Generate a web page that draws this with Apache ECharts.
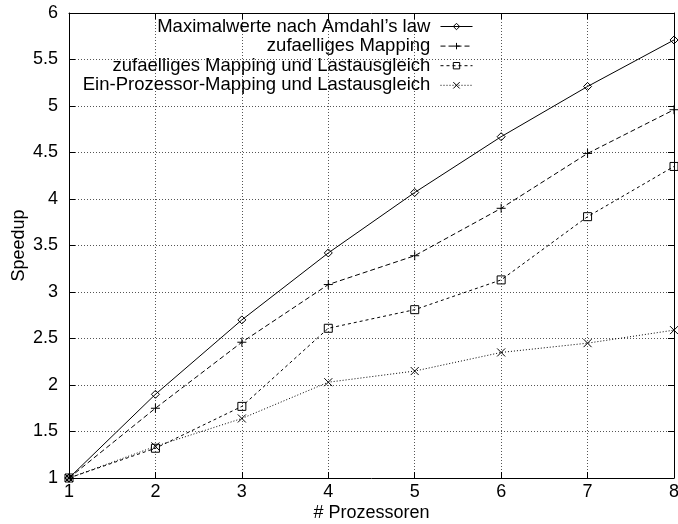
<!DOCTYPE html>
<html>
<head>
<meta charset="utf-8">
<script src="https://cdn.jsdelivr.net/npm/echarts@6/dist/echarts.min.js"></script>
<style>
  html, body { margin: 0; padding: 0; background: #fff; }
  #chart { width: 678px; height: 524px; }
</style>
</head>
<body>
<div id="chart"></div>
<script>
// Speedup measurements over the number of processors
const processors = [1, 2, 3, 4, 5, 6, 7, 8];
const amdahlMax = [1, 1.90, 2.70, 3.42, 4.07, 4.67, 5.21, 5.71];
const randomMapping = [1, 1.75, 2.46, 3.08, 3.39, 3.90, 4.49, 4.96];
const randomMappingBalanced = [1, 1.32, 1.77, 2.61, 2.81, 3.13, 3.81, 4.35];
const singleProcBalanced = [1, 1.34, 1.64, 2.03, 2.15, 2.35, 2.45, 2.59];

const seriesNames = [
  'Maximalwerte nach Amdahl\u2019s law',
  'zufaelliges Mapping',
  'zufaelliges Mapping und Lastausgleich',
  'Ein-Prozessor-Mapping und Lastausgleich'
];
const seriesValues = [amdahlMax, randomMapping, randomMappingBalanced, singleProcBalanced];

// Point markers and dash patterns, one per series
const markers = [
  'path://M4,0L8,4L4,8L0,4Z',
  'path://M0,4L8,4M4,0L4,8',
  'path://M0,0L8,0L8,8L0,8Z',
  'path://M0,0L8,8M8,0L0,8'
];
const markerSizes = [8, 9, 8, 8];
const dashes = ['solid', [5, 3], [3, 3], [1, 2]];

const FONT = '"Liberation Sans", Arial, Helvetica, sans-serif';
const INK = '#000';

const textStyle = { color: INK, fontFamily: FONT, fontSize: 18 };

function toPairs(values) {
  return processors.map((p, i) => [p, values[i]]);
}

const series = seriesNames.map((name, i) => ({
  type: 'line',
  name: name,
  data: toPairs(seriesValues[i]),
  symbol: markers[i],
  symbolSize: markerSizes[i],
  symbolKeepAspect: true,
  showAllSymbol: true,
  lineStyle: { color: INK, width: 1, type: dashes[i] },
  itemStyle: { color: 'rgba(0,0,0,0)', borderColor: INK, borderWidth: 1 },
  emphasis: { disabled: true },
  z: 3 + i
}));

const legendData = seriesNames.map((name, i) => ({
  name: name,
  itemStyle: { color: 'rgba(0,0,0,0)', borderColor: INK, borderWidth: 1 },
  lineStyle: { color: INK, width: 1, type: dashes[i] }
}));

const tickStyle = { show: true, inside: true, length: 6, lineStyle: { color: INK, width: 1 } };
const borderLine = { show: true, lineStyle: { color: INK, width: 1 } };
const gridLine = { show: true, lineStyle: { color: '#555', width: 1, type: [1, 2] } };

const option = {
  animation: false,
  backgroundColor: '#fff',
  textStyle: { fontFamily: FONT },
  grid: { left: 69, right: 4, top: 13, bottom: 46, containLabel: false, outerBoundsMode: 'none' },
  legend: {
    orient: 'vertical',
    align: 'right',
    right: 205,
    top: 17,
    padding: 0,
    itemWidth: 32,
    itemHeight: 8,
    itemGap: 0.6,
    selectedMode: false,
    formatter: name => name + ' ',
    textStyle: Object.assign({}, textStyle, { fontSize: 18.5, lineHeight: 18 }),
    data: legendData
  },
  xAxis: [
    {
      type: 'value', position: 'bottom', min: 1, max: 8, interval: 1,
      axisLine: borderLine, axisTick: tickStyle,
      axisLabel: Object.assign({ margin: 5 }, textStyle),
      splitLine: gridLine,
      name: '# Prozessoren', nameLocation: 'middle', nameGap: 26,
      nameMoveOverlap: false,
      nameTextStyle: textStyle
    },
    {
      type: 'value', position: 'top', min: 1, max: 8, interval: 1,
      axisLine: borderLine, axisTick: tickStyle,
      axisLabel: { show: false }, splitLine: { show: false }
    }
  ],
  yAxis: [
    {
      type: 'value', position: 'left', min: 1, max: 6, interval: 0.5,
      axisLine: borderLine, axisTick: tickStyle,
      axisLabel: Object.assign({ margin: 11 }, textStyle),
      splitLine: gridLine,
      name: 'Speedup', nameLocation: 'middle', nameGap: 41,
      nameMoveOverlap: false,
      nameTextStyle: textStyle
    },
    {
      type: 'value', position: 'right', min: 1, max: 6, interval: 0.5,
      axisLine: borderLine, axisTick: tickStyle,
      axisLabel: { show: false }, splitLine: { show: false }
    }
  ],
  series: series
};

const chart = echarts.init(document.getElementById('chart'), null, { renderer: 'canvas' });
chart.setOption(option);
</script>
</body>
</html>
